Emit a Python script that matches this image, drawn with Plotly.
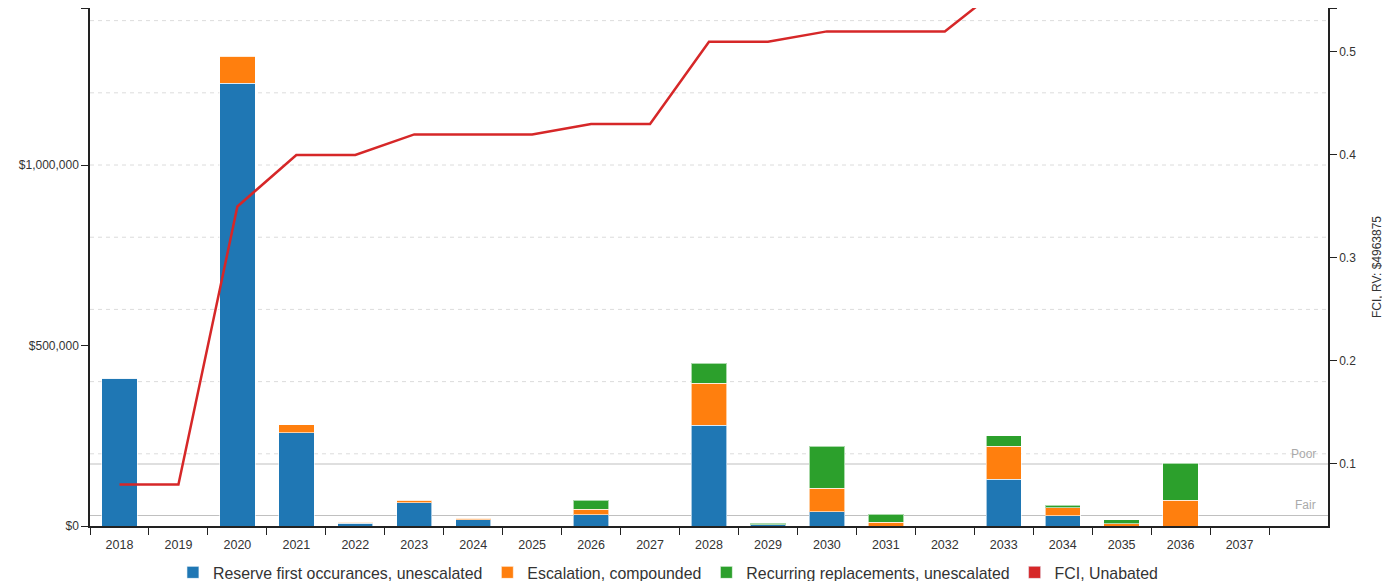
import plotly.graph_objects as go

years = [str(y) for y in range(2018, 2038)]
reserve = [410000, 0, 1227000, 258000, 7000, 64000, 18000, 0, 31000, 0,
           279000, 3000, 40000, 0, 0, 130000, 29000, 0, 0, 0]
escalation = [0, 0, 75000, 22000, 4000, 8000, 3000, 0, 15000, 0,
              117000, 0, 64000, 10000, 0, 91000, 22000, 6000, 72000, 0]
recurring = [0, 0, 0, 0, 0, 0, 0, 0, 26000, 0,
             55000, 4000, 117000, 22000, 0, 29000, 6000, 11000, 102000, 0]
fci = [0.08, 0.08, 0.35, 0.40, 0.40, 0.42, 0.42, 0.42, 0.43, 0.43,
       0.51, 0.51, 0.52, 0.52, 0.52, 0.565, 0.57, 0.58, 0.60, 0.61]

left_ticks = [0, 500000, 1000000]
grid_vals = [200000, 400000, 600000, 800000, 1000000, 1200000, 1400000]
right_ticks = [0.1, 0.2, 0.3, 0.4, 0.5]
thresholds = {"Poor": 0.1, "Fair": 0.05}

BLUE, ORANGE, GREEN, RED = "#1f77b4", "#ff7f0e", "#2ca02c", "#d62728"
FONT = "Liberation Sans, Arial, sans-serif"
LEFT_MAX = 1435000
RIGHT_RANGE = [0.0398, 0.5427]

fig = go.Figure()
for name, vals, col in [("Reserve first occurances, unescalated", reserve, BLUE),
                        ("Escalation, compounded", escalation, ORANGE),
                        ("Recurring replacements, unescalated", recurring, GREEN)]:
    fig.add_trace(go.Bar(x=years, y=vals, name=name, marker_color=col,
                         marker_line=dict(color="rgba(255,255,255,0.6)", width=1)))

fig.add_trace(go.Scatter(x=years, y=fci, yaxis="y2", mode="lines",
                         line=dict(color=RED, width=2.5), showlegend=False,
                         name="FCI, Unabated"))
# legend entry as square swatch
fig.add_trace(go.Bar(x=[None], y=[None], name="FCI, Unabated", marker_color=RED))

for g in grid_vals:
    fig.add_shape(type="line", xref="paper", x0=0, x1=1, yref="y", y0=g, y1=g,
                  line=dict(color="#dcdcdc", width=1, dash="4px,4px"), layer="below")

for label, val in thresholds.items():
    fig.add_shape(type="line", xref="paper", x0=0, x1=1, yref="y2", y0=val, y1=val,
                  line=dict(color="#c0c0c0", width=1.2), layer="below")
    fig.add_annotation(text=label, xref="paper", x=1, yref="y2", y=val,
                       xanchor="right", yanchor="bottom", xshift=-10, yshift=1,
                       showarrow=False, font=dict(color="#aaaaaa", size=12, family=FONT))

fig.update_layout(
    width=1382, height=573,
    margin=dict(l=82, r=62, t=0, b=55, autoexpand=False),
    paper_bgcolor="white", plot_bgcolor="white",
    barmode="stack", bargap=0.4,
    font=dict(family=FONT, size=12, color="#333333"),
    xaxis=dict(type="category", range=[-0.5, 20.5], tickson="boundaries",
               ticks="outside", ticklen=7, tickcolor="#222", showline=True,
               linecolor="#222", linewidth=1.5, showgrid=False, automargin=False,
               ticklabelstandoff=6, tickfont=dict(size=12.5, color="#333")),
    yaxis=dict(range=[0, LEFT_MAX], tickmode="array", tickvals=left_ticks + [1433000],
               ticktext=["$0", "$500,000", "$1,000,000", ""],
               ticks="outside", ticklen=7, tickcolor="#222", showline=True,
               linecolor="#222", linewidth=1.5, showgrid=False, zeroline=False,
               automargin=False, tickfont=dict(size=12, color="#333")),
    yaxis2=dict(range=RIGHT_RANGE, overlaying="y", side="right", tickmode="array",
                tickvals=right_ticks + [0.5418], ticktext=["0.1", "0.2", "0.3", "0.4", "0.5", ""],
                ticks="outside", ticklen=7, tickcolor="#222", showline=True,
                linecolor="#222", linewidth=1.5, showgrid=False, zeroline=False,
                automargin=False, tickfont=dict(size=12, color="#333"),
                title=dict(text="FCI, RV: $4963875", font=dict(size=12, color="#333"),
                           standoff=17)),
    legend=dict(orientation="h", x=0.067, xanchor="left", y=-0.057, yanchor="top",
                font=dict(size=15.9, color="#333", family=FONT), traceorder="normal",
                itemclick=False),
)

fig.write_html("out.html")
